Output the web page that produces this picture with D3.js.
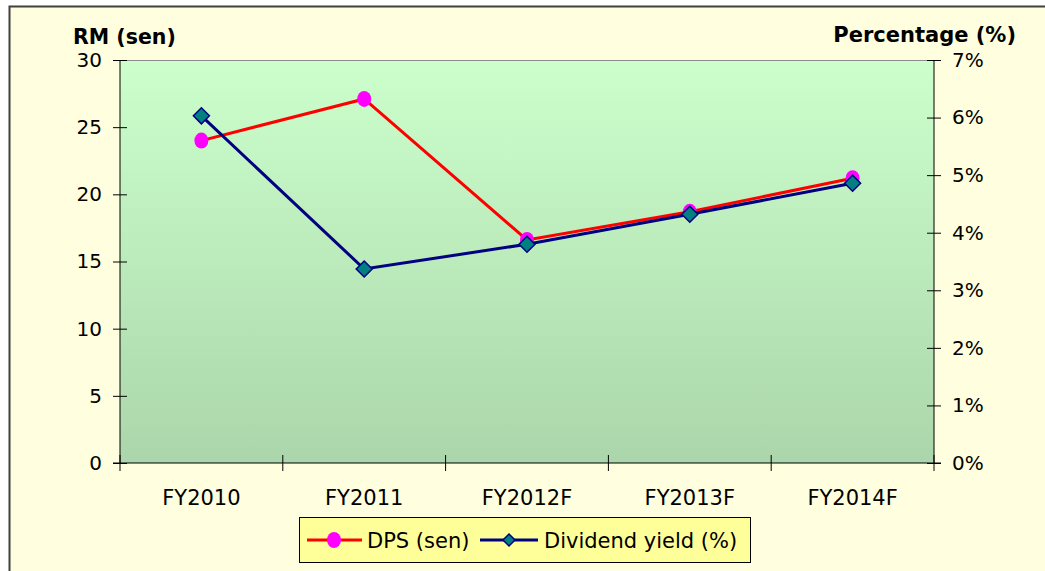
<!DOCTYPE html>
<html>
<head>
<meta charset="utf-8">
<script src="https://cdn.jsdelivr.net/npm/d3@7"></script>
<style>
  body { margin: 0; background: #fff; }
  svg text { font-family: "DejaVu Sans", Verdana, sans-serif; fill: #000; }
</style>
</head>
<body>
<div id="chart-container"></div>
<script>
// data
let categories = ["FY2010", "FY2011", "FY2012F", "FY2013F", "FY2014F"];
let dps = [24.0, 27.1, 16.6, 18.7, 21.2];           // RM (sen), left axis
let divYield = [6.03, 3.37, 3.80, 4.32, 4.86];      // %, right axis
let leftTicks = [0, 5, 10, 15, 20, 25, 30];
let rightTicks = [0, 1, 2, 3, 4, 5, 6, 7];

let W = 1045, H = 571;
let plot = {left: 120, right: 934, top: 60, bottom: 463};

let svg = d3.select("#chart-container")
    .append("svg")
    .attr("width", W)
    .attr("height", H);

// chart background + outer border
svg.append("rect")
    .attr("x", 9.5).attr("y", 6.5)
    .attr("width", W + 10).attr("height", H + 10)
    .attr("fill", "#ffffdf")
    .attr("stroke", "#404040")
    .attr("stroke-width", 2);

let defs = svg.append("defs");
let grad = defs.append("linearGradient")
    .attr("id", "plotGrad")
    .attr("x1", 0).attr("y1", 0).attr("x2", 0).attr("y2", 1);
grad.append("stop").attr("offset", "0%").attr("stop-color", "#ccffcc");
grad.append("stop").attr("offset", "100%").attr("stop-color", "#abd6ab");

svg.append("rect")
    .attr("x", plot.left).attr("y", plot.top)
    .attr("width", plot.right - plot.left)
    .attr("height", plot.bottom - plot.top)
    .attr("fill", "url(#plotGrad)");
// grey top frame
svg.append("line")
    .attr("x1", plot.left).attr("x2", plot.right)
    .attr("y1", plot.top + 0.5).attr("y2", plot.top + 0.5)
    .attr("stroke", "#8c8c8c").attr("stroke-width", 1);

// scales
let x = d3.scaleBand()
    .domain(categories)
    .range([plot.left, plot.right]);
let yl = d3.scaleLinear().domain([0, 30]).range([plot.bottom, plot.top]);
let yr = d3.scaleLinear().domain([0, 7]).range([plot.bottom, plot.top]);
let cx = d => x(d) + x.bandwidth() / 2;

// left axis
let ylAxis = svg.append("g")
    .attr("transform", "translate(" + plot.left + ",0)")
    .call(d3.axisLeft(yl).tickValues(leftTicks).tickSize(7).tickPadding(12));
ylAxis.selectAll(".tick line").attr("x2", -7).attr("x1", 7);

// right axis
let yrAxis = svg.append("g")
    .attr("transform", "translate(" + plot.right + ",0)")
    .call(d3.axisRight(yr).tickValues(rightTicks).tickSize(7).tickPadding(12)
        .tickFormat(d => d + "%"));
yrAxis.selectAll(".tick line").attr("x1", -7).attr("x2", 7);

// bottom axis, ticks at category boundaries
let xAxisG = svg.append("g")
    .attr("transform", "translate(0," + plot.bottom + ")");
xAxisG.append("line")
    .attr("x1", plot.left - 7).attr("x2", plot.right + 7)
    .attr("y1", 0).attr("y2", 0)
    .attr("stroke", "#000");
let bounds = categories.map(c => x(c)).concat([plot.right]);
xAxisG.selectAll("line.b")
    .data(bounds)
    .enter().append("line")
    .attr("class", "b")
    .attr("x1", d => d).attr("x2", d => d)
    .attr("y1", -8).attr("y2", 8)
    .attr("stroke", "#000");
xAxisG.selectAll("text")
    .data(categories)
    .enter().append("text")
    .attr("x", d => cx(d))
    .attr("y", 42)
    .attr("text-anchor", "middle")
    .style("font-size", "21px")
    .text(d => d);

[ylAxis, yrAxis].forEach(g => {
    g.select(".domain").remove();
    g.selectAll(".tick line").attr("stroke", "#000");
    g.selectAll(".tick text").style("font-size", "20px")
        .style("font-family", "DejaVu Sans, Verdana, sans-serif");
    g.append("line").attr("x1", 0).attr("x2", 0)
        .attr("y1", plot.top).attr("y2", plot.bottom).attr("stroke", "#000");
});
ylAxis.selectAll(".tick text").attr("x", -18);
yrAxis.selectAll(".tick text").attr("x", 18);

// axis titles
svg.append("text")
    .attr("x", 73).attr("y", 44)
    .style("font-size", "20.5px").style("font-weight", "bold")
    .text("RM (sen)");
svg.append("text")
    .attr("x", 1016).attr("y", 42)
    .attr("text-anchor", "end")
    .style("font-size", "21px").style("font-weight", "bold")
    .text("Percentage (%)");

// lines
let redLine = d3.line().x((d, i) => cx(categories[i])).y(d => yl(d));
let blueLine = d3.line().x((d, i) => cx(categories[i])).y(d => yr(d));

svg.append("path")
    .datum(dps)
    .attr("d", redLine)
    .attr("fill", "none")
    .attr("stroke", "#ff0000")
    .attr("stroke-width", 3);
svg.selectAll("ellipse.dps")
    .data(dps)
    .enter().append("ellipse")
    .attr("class", "dps")
    .attr("cx", (d, i) => cx(categories[i]))
    .attr("cy", d => yl(d))
    .attr("rx", 7).attr("ry", 8)
    .attr("fill", "#ff00ff");

svg.append("path")
    .datum(divYield)
    .attr("d", blueLine)
    .attr("fill", "none")
    .attr("stroke", "#000080")
    .attr("stroke-width", 3);
let diamond = "M0,-8L8,0L0,8L-8,0Z";
svg.selectAll("path.dy")
    .data(divYield)
    .enter().append("path")
    .attr("class", "dy")
    .attr("d", diamond)
    .attr("transform", (d, i) => "translate(" + cx(categories[i]) + "," + yr(d) + ")")
    .attr("fill", "#008080")
    .attr("stroke", "#000080")
    .attr("stroke-width", 1.5);

// legend
let legend = svg.append("g");
legend.append("rect")
    .attr("x", 299.5).attr("y", 517.5)
    .attr("width", 451).attr("height", 45)
    .attr("fill", "#ffff99")
    .attr("stroke", "#000").attr("stroke-width", 1);
let ly = 540;
legend.append("line")
    .attr("x1", 307).attr("x2", 362).attr("y1", ly).attr("y2", ly)
    .attr("stroke", "#ff0000").attr("stroke-width", 3);
legend.append("ellipse")
    .attr("cx", 334).attr("cy", ly).attr("rx", 7).attr("ry", 8)
    .attr("fill", "#ff00ff");
legend.append("text")
    .attr("x", 367).attr("y", ly + 8)
    .style("font-size", "21px")
    .text("DPS (sen)");
legend.append("line")
    .attr("x1", 480).attr("x2", 538).attr("y1", ly).attr("y2", ly)
    .attr("stroke", "#000080").attr("stroke-width", 3);
legend.append("path")
    .attr("d", "M0,-6L6,0L0,6L-6,0Z")
    .attr("transform", "translate(509," + ly + ")")
    .attr("fill", "#008080")
    .attr("stroke", "#000080")
    .attr("stroke-width", 1.5);
legend.append("text")
    .attr("x", 544).attr("y", ly + 8)
    .style("font-size", "21px")
    .text("Dividend yield (%)");
</script>
</body>
</html>
